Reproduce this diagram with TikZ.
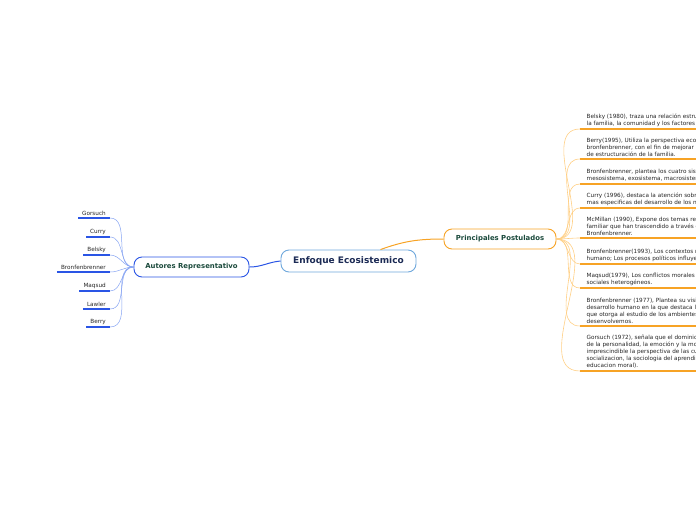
\documentclass[tikz,border=0pt]{standalone}
\usepackage{fontspec}
\setmainfont{DejaVu Sans}
\usetikzlibrary{arrows.meta,positioning}

\definecolor{rootedge}{HTML}{6FA8DC}
\definecolor{roottext}{HTML}{1C2B55}
\definecolor{autedge}{HTML}{2A55E5}
\definecolor{autfan}{HTML}{86A3F2}
\definecolor{postedge}{HTML}{F7A325}
\definecolor{postfan}{HTML}{FFCF85}
\definecolor{labeltext}{HTML}{1B4A3C}

\begin{document}
\begin{tikzpicture}[x=1pt,y=-1pt,
root/.style={draw=rootedge,line width=0.9pt,rounded corners=8pt,fill=white,text=roottext,font=\fontsize{9}{10}\selectfont\bfseries,minimum width=135pt,minimum height=22pt},
branch/.style={rounded corners=8pt,fill=white,text=labeltext,font=\fontsize{6.9}{8}\selectfont\bfseries,minimum height=20pt,line width=0.9pt},
author/.style={anchor=south east,font=\fontsize{5.7}{6}\selectfont,text=black!85,inner xsep=4pt,inner ysep=2.2pt,align=center},
post/.style={anchor=south west,font=\fontsize{5.7}{7}\selectfont,text=black!85,inner xsep=6.5pt,inner ysep=2.2pt,align=left},
autline/.style={draw=autedge,line width=1.3pt},
postline/.style={draw=postedge,line width=1.3pt},
autlink/.style={draw=autfan,line width=0.5pt},
postlink/.style={draw=postfan,line width=0.6pt}
]
\useasboundingbox (0,0) rectangle (696,520);
\clip (0,0) rectangle (696,520);

% central topic and main branches
\node[root] (eco) at (348.5,261) {Enfoque Ecosistemico};
\node[branch,draw=autedge,minimum width=115pt] (aut) at (191.5,267) {Autores Representativo};
\node[branch,draw=postedge,minimum width=112pt] (post) at (500,239) {Principales Postulados};

\draw[draw=autedge,line width=1pt] (eco.west) to[out=185,in=0] (aut.east);
\draw[draw=postedge,line width=1pt] ([xshift=32pt]eco.north) to[out=20,in=180] (post.west);

% authors
\node[author] (a1) at (110,218) {Gorsuch};
\node[author] (a2) at (110,237) {Curry};
\node[author] (a3) at (110,255) {Belsky};
\node[author] (a4) at (110,272) {Bronfenbrenner};
\node[author] (a5) at (110,291) {Maqsud};
\node[author] (a6) at (110,309) {Lawler};
\node[author] (a7) at (110,327) {Berry};

\draw[autline] (a1.south west) -- (a1.south east);
\draw[autline] (a2.south west) -- (a2.south east);
\draw[autline] (a3.south west) -- (a3.south east);
\draw[autline] (a4.south west) -- (a4.south east);
\draw[autline] (a5.south west) -- (a5.south east);
\draw[autline] (a6.south west) -- (a6.south east);
\draw[autline] (a7.south west) -- (a7.south east);

\draw[autlink] (aut.west) to[out=180,in=0] (a1.south east);
\draw[autlink] (aut.west) to[out=180,in=0] (a2.south east);
\draw[autlink] (aut.west) to[out=180,in=0] (a3.south east);
\draw[autlink] (aut.west) to[out=180,in=0] (a4.south east);
\draw[autlink] (aut.west) to[out=180,in=0] (a5.south east);
\draw[autlink] (aut.west) to[out=180,in=0] (a6.south east);
\draw[autlink] (aut.west) to[out=180,in=0] (a7.south east);

% postulates
\node[post] (p1) at (580,129) {Belsky (1980), traza una relación estructural\\la familia, la comunidad y los factores c};
\node[post] (p2) at (580,159) {Berry(1995), Utiliza la perspectiva ecológica\\bronfenbrenner, con el fin de mejorar y\\de estructuración de la familia.};
\node[post] (p3) at (580,184) {Bronfenbrenner, plantea los cuatro sistemas\\mesosistema, exosistema, macrosistema};
\node[post] (p4) at (580,208) {Curry (1996), destaca la atención sobre\\mas especificas del desarrollo de los niños};
\node[post] (p5) at (580,238) {McMillan (1990), Expone dos temas resaltantes\\familiar que han trascendido a través de\\Bronfenbrenner.};
\node[post] (p6) at (580,264) {Bronfenbrenner(1993), Los contextos n\\humano; Los procesos políticos influyen};
\node[post] (p7) at (580,288) {Maqsud(1979), Los conflictos morales s\\sociales heterogéneos.};
\node[post] (p8) at (580,326) {Bronfenbrenner (1977), Plantea su visión\\desarrollo humano en la que destaca la\\que otorga al estudio de los ambientes\\desenvolvemos.};
\node[post] (p9) at (580,371) {Gorsuch (1972), señala que el dominio\\de la personalidad, la emoción y la motivación\\imprescindible la perspectiva de las cuales\\socializacion, la sociologia del aprendizaje\\educacion moral).};

\draw[postline] (p1.south west) -- ++(140,0);
\draw[postline] (p2.south west) -- ++(140,0);
\draw[postline] (p3.south west) -- ++(140,0);
\draw[postline] (p4.south west) -- ++(140,0);
\draw[postline] (p5.south west) -- ++(140,0);
\draw[postline] (p6.south west) -- ++(140,0);
\draw[postline] (p7.south west) -- ++(140,0);
\draw[postline] (p8.south west) -- ++(140,0);
\draw[postline] (p9.south west) -- ++(140,0);

\draw[postlink] (post.east) to[out=0,in=180] (p1.south west);
\draw[postlink] (post.east) to[out=0,in=180] (p2.south west);
\draw[postlink] (post.east) to[out=0,in=180] (p3.south west);
\draw[postlink] (post.east) to[out=0,in=180] (p4.south west);
\draw[postlink] (post.east) to[out=0,in=180] (p5.south west);
\draw[postlink] (post.east) to[out=0,in=180] (p6.south west);
\draw[postlink] (post.east) to[out=0,in=180] (p7.south west);
\draw[postlink] (post.east) to[out=0,in=180] (p8.south west);
\draw[postlink] (post.east) to[out=0,in=180] (p9.south west);
\end{tikzpicture}
\end{document}
